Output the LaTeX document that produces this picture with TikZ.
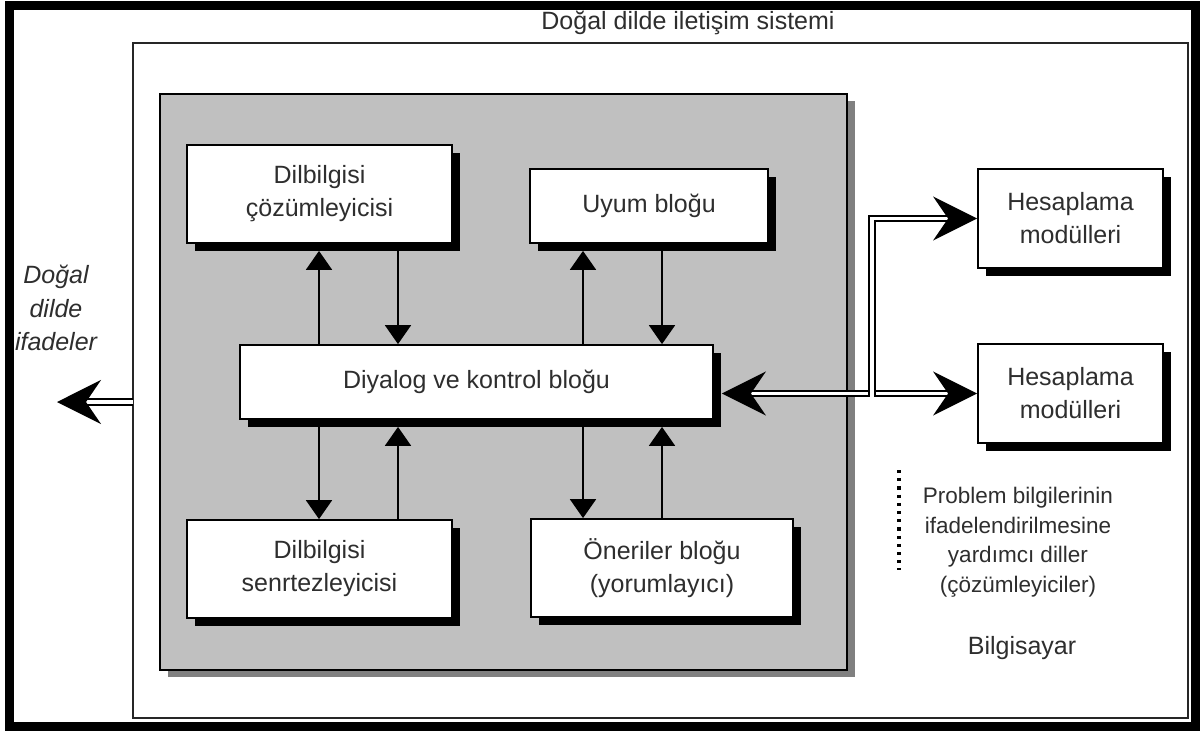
\documentclass[tikz,border=0pt]{standalone}
\usepackage{fontspec}
\setmainfont{Liberation Sans}
\usetikzlibrary{arrows.meta,shadows}
\definecolor{panelgray}{HTML}{C0C0C0}
\definecolor{panelshade}{HTML}{808080}
\tikzset{bigtip/.tip={Stealth[length=44pt,width=44pt,inset=15pt]}}
\begin{document}
\begin{tikzpicture}[x=1pt,y=-1pt,
  txt/.style={text=black!82, font=\fontsize{25}{33}\selectfont, align=center, inner sep=0pt},
  blk/.style={draw=black, line width=1.8pt, fill=white, txt,
    drop shadow={shadow xshift=8pt, shadow yshift=-8pt, fill=black, opacity=1}},
  arr/.style={draw=black, line width=2pt, -{Triangle[length=19pt,width=26pt]}},
  uparr/.style={arr, shorten >=7pt},
  dbl/.style={draw=black, line width=1.8pt, double=white, double distance=3.8pt},
]
% page and bounding box
\fill[white] (0,0) rectangle (1202,734);
\useasboundingbox (0,0) rectangle (1202,734);

% outer heavy frame and the system frame
\draw[line width=9.5pt] (9.5,5.5) rectangle (1195.5,726.5);
\draw[line width=2pt, draw=black!85] (133,43) rectangle (1188,718);
\node[txt] (title) at (688,23) {Doğal dilde iletişim sistemi};

% grey panel holding the language blocks
\draw[line width=1.8pt, fill=panelgray,
  drop shadow={shadow xshift=8pt, shadow yshift=-7pt, fill=panelshade, opacity=1}]
  (160,94) rectangle (847,670);

% blocks
\node[blk, minimum width=265pt, minimum height=98pt] (dc) at (319.5,194) {Dilbilgisi\\çözümleyicisi};
\node[blk, minimum width=238pt, minimum height=74pt] (uy) at (649,206) {Uyum bloğu};
\node[blk, minimum width=473pt, minimum height=74pt] (dk) at (476.5,382) {Diyalog ve kontrol bloğu};
\node[blk, minimum width=265pt, minimum height=98pt] (ds) at (319.5,569) {Dilbilgisi\\senrtezleyicisi};
\node[blk, minimum width=262pt, minimum height=98pt] (on) at (662,568) {Öneriler bloğu\\(yorumlayıcı)};
\node[blk, minimum width=185pt, minimum height=99pt] (hm1) at (1070.5,218.5) {Hesaplama\\modülleri};
\node[blk, minimum width=185pt, minimum height=99pt] (hm2) at (1070.5,393.5) {Hesaplama\\modülleri};

% columns of the vertical connectors
\coordinate (xa) at (319,0);
\coordinate (xb) at (398,0);
\coordinate (xc) at (583,0);
\coordinate (xd) at (662,0);

% dialogue block <-> upper blocks
\draw[uparr] (dk.north -| xa) -- (dc.south -| xa);
\draw[arr] (dc.south -| xb) -- (dk.north -| xb);
\draw[uparr] (dk.north -| xc) -- (uy.south -| xc);
\draw[arr] (uy.south -| xd) -- (dk.north -| xd);

% dialogue block <-> lower blocks
\draw[arr] (dk.south -| xa) -- (ds.north -| xa);
\draw[uparr] (ds.north -| xb) -- (dk.south -| xb);
\draw[arr] (dk.south -| xc) -- (on.north -| xc);
\draw[uparr] (on.north -| xd) -- (dk.south -| xd);

% natural-language output
\coordinate (frL) at (133,402);
\coordinate (outL) at (57,402);
\draw[dbl, -bigtip] (frL) -- (outL);
\node[txt, font=\itshape\fontsize{25}{33.5}\selectfont] (ifd) at (56,308) {Doğal\\dilde\\ifadeler};

% links to the computation modules
\draw[dbl, bigtip-bigtip] ([xshift=8pt]dk.east |- hm2.west) -- (hm2.west);
\coordinate (jx) at (872,0);
\path (hm2.west -| jx) ++(0,3) coordinate (jb);
\draw[dbl, -bigtip] (jb) |- (hm1.west);

% auxiliary languages note
\coordinate (dt1) at (899,470);
\coordinate (dt2) at (899,570);
\draw[line width=4pt, dash pattern=on 3.2pt off 5pt] (dt1) -- (dt2);
\node[txt, font=\fontsize{22.5}{29.5}\selectfont] (pb) at (1018,542)
  {Problem bilgilerinin\\ifadelendirilmesine\\yardımcı diller\\(çözümleyiciler)};
\node[txt] (pc) at (1022,648) {Bilgisayar};
\end{tikzpicture}
\end{document}
